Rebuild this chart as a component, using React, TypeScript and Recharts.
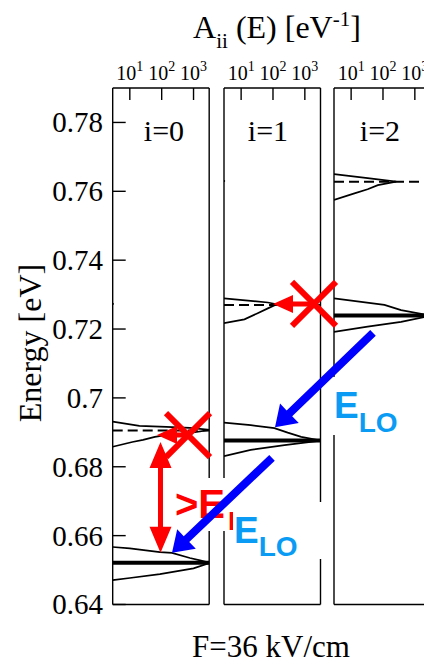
import { ScatterChart, Scatter, XAxis, YAxis, ReferenceLine, Customized } from 'recharts';

// ---- tick values ----
const A_TICKS = [10, 100, 1000];
const E_TICKS = [0.64, 0.66, 0.68, 0.7, 0.72, 0.74, 0.76, 0.78];
const E_MINOR = [0.65, 0.67, 0.69, 0.71, 0.73, 0.75, 0.77];
const E_FINE = [0.65, 0.66, 0.67, 0.68, 0.69, 0.7, 0.71, 0.72, 0.73, 0.74, 0.75, 0.76, 0.77, 0.78];
const PANEL_LABELS = ['i=0', 'i=1', 'i=2'];

// ---- spectral functions A_ii(E) ----
// i=0
const i0Ground = [
  { a: 2.9, e: 0.6567 }, { a: 10, e: 0.6563 }, { a: 88, e: 0.6552 }, { a: 210, e: 0.655 },
  { a: 770, e: 0.6535 }, { a: 1600, e: 0.6528 }, { a: 3300, e: 0.6521 },
  { a: 1000, e: 0.6505 }, { a: 88, e: 0.6488 }, { a: 10, e: 0.6477 }, { a: 2.9, e: 0.6471 },
];
const i0Upper = [
  { a: 2.9, e: 0.6931 }, { a: 20, e: 0.6919 }, { a: 140, e: 0.6916 }, { a: 770, e: 0.6913 },
  { a: 3300, e: 0.6907 },
  { a: 770, e: 0.6898 }, { a: 135, e: 0.6892 }, { a: 61, e: 0.6887 }, { a: 26, e: 0.6878 },
  { a: 12, e: 0.6872 }, { a: 2.9, e: 0.6858 },
];
const i0Speck = [{ a: 2.0, e: 0.7276 }, { a: 3.1, e: 0.7273 }, { a: 2.0, e: 0.727 }];
// i=1
const i1Upper = [
  { a: 2.9, e: 0.7289 }, { a: 20, e: 0.7282 }, { a: 69, e: 0.7277 }, { a: 130, e: 0.7272 },
  { a: 69, e: 0.726 }, { a: 33, e: 0.7246 }, { a: 12.7, e: 0.7228 }, { a: 2.9, e: 0.7217 },
];
const i1Ground = [
  { a: 2.9, e: 0.6928 }, { a: 20, e: 0.6921 }, { a: 111, e: 0.6912 }, { a: 290, e: 0.6899 },
  { a: 770, e: 0.6887 }, { a: 3300, e: 0.6876 },
  { a: 230, e: 0.6863 }, { a: 20, e: 0.6849 }, { a: 2.9, e: 0.6831 },
];
const i1Speck = [{ a: 2.0, e: 0.7633 }, { a: 3.1, e: 0.763 }, { a: 2.0, e: 0.7627 }];
// i=2
const i2Upper = [
  { a: 2.9, e: 0.765 }, { a: 33, e: 0.7638 }, { a: 260, e: 0.7628 },
  { a: 69, e: 0.7618 }, { a: 33, e: 0.7606 }, { a: 12.7, e: 0.7594 }, { a: 2.9, e: 0.7575 },
];
const i2Ground = [
  { a: 2.9, e: 0.7289 }, { a: 111, e: 0.727 }, { a: 370, e: 0.7255 }, { a: 3300, e: 0.7239 },
  { a: 370, e: 0.7221 }, { a: 33, e: 0.7207 }, { a: 2.9, e: 0.7192 },
];

// level energies: thick = ground peak, dashed = unperturbed level
const THICK_E = [0.6521, 0.6876, 0.7239];
const DASHED_E = [0.6905, 0.727, 0.7628];
const CURVES = [[i0Ground, i0Upper, i0Speck], [i1Upper, i1Ground, i1Speck], [i2Upper, i2Ground]];

// ---- annotations (x in figure units, e = energy) ----
const RED_CROSSES = [{ x: 188, e: 0.6892 }, { x: 314, e: 0.7273 }];
const RED_SHIFTS = [
  [{ x: 188, y: 0.6892 }, { x: 157, y: 0.6892 }],
  [{ x: 314, y: 0.7273 }, { x: 273, y: 0.7273 }],
];
const RED_GAP = [{ x: 160.5, y: 0.6872 }, { x: 160.5, y: 0.655 }];
const BLUE_ARROWS = [
  [{ x: 373, y: 0.7189 }, { x: 275, y: 0.6915 }],
  [{ x: 272, y: 0.6826 }, { x: 172, y: 0.655 }],
];

// ---- layout ----
const W = 424;
const H = 665;
const PLOT_TOP = 88;
const PLOT_BOTTOM = 604.5;
const PANEL_X = [112.7, 224, 334.3];
const PANEL_W = 96.5;
const A_DOMAIN = [2.9, 3100];
const E_DOMAIN = [0.64, 0.79];
const SERIF = '"Liberation Serif", "Times New Roman", serif';
const SANS = '"Liberation Sans", Arial, sans-serif';
const RED = '#ff0000';
const BLUE = '#0000ff';
const SKY = '#0a9cf5';
const AXIS = { stroke: '#000', strokeWidth: 1.4 };

const PowTick = ({ x, y, payload }: any) => (
  <text x={x} y={y} textAnchor="middle" fontFamily={SERIF} fontSize={20} fill="#000">
    10
    <tspan dy={-9} fontSize={14}>{Math.round(Math.log10(payload.value))}</tspan>
  </text>
);

const ETick = ({ x, y, payload }: any) => (
  <text x={x} y={y} dy={10} textAnchor="end" fontFamily={SERIF} fontSize={29} fill="#000">
    {String(Number(payload.value.toFixed(2)))}
  </text>
);

function arrowPoints(x1: number, y1: number, x2: number, y2: number, shaft: number, hl: number, hw: number, both: boolean) {
  const len = Math.hypot(x2 - x1, y2 - y1);
  const ux = (x2 - x1) / len;
  const uy = (y2 - y1) / len;
  const nx = -uy;
  const ny = ux;
  const s = shaft / 2;
  const h = hw / 2;
  const bx = x2 - ux * hl;
  const by = y2 - uy * hl;
  const p = (px: number, py: number) => `${px},${py}`;
  if (!both) {
    return [
      p(x1 + nx * s, y1 + ny * s), p(bx + nx * s, by + ny * s), p(bx + nx * h, by + ny * h), p(x2, y2),
      p(bx - nx * h, by - ny * h), p(bx - nx * s, by - ny * s), p(x1 - nx * s, y1 - ny * s),
    ].join(' ');
  }
  const cx = x1 + ux * hl;
  const cy = y1 + uy * hl;
  return [
    p(x1, y1), p(cx + nx * h, cy + ny * h), p(cx + nx * s, cy + ny * s), p(bx + nx * s, by + ny * s),
    p(bx + nx * h, by + ny * h), p(x2, y2), p(bx - nx * h, by - ny * h), p(bx - nx * s, by - ny * s),
    p(cx - nx * s, cy - ny * s), p(cx - nx * h, cy - ny * h),
  ].join(' ');
}

const arrowShape = (color: string, shaft: number, hl: number, hw: number, both = false) => (props: any) => (
  <polygon points={arrowPoints(props.x1, props.y1, props.x2, props.y2, shaft, hl, hw, both)} fill={color} />
);

const Cross = ({ cx, cy }: any) => (
  <g stroke={RED} strokeWidth={6}>
    <line x1={cx - 22} y1={cy - 22} x2={cx + 22} y2={cy + 22} />
    <line x1={cx - 22} y1={cy + 22} x2={cx + 22} y2={cy - 22} />
  </g>
);

const NoDot = () => <g />;

// axes are 1px thick boxes sitting just outside the plot, so margins are reduced by that
function Panel({ idx }: { idx: number }) {
  const ml = idx === 0 ? PANEL_X[0] : 10;
  const mr = 10;
  const leftAxes = idx === 0 ? 2 : 1;
  const common = { type: 'number' as const, allowDataOverflow: true };
  return (
    <div style={{ position: 'absolute', left: PANEL_X[idx] - ml, top: 0 }}>
      <ScatterChart
        width={ml + PANEL_W + mr}
        height={H}
        margin={{ top: PLOT_TOP - 1, bottom: H - PLOT_BOTTOM - 1, left: ml - leftAxes, right: mr - 1 }}
      >
        <XAxis {...common} xAxisId="top" orientation="top" dataKey="a" scale="log" domain={A_DOMAIN}
          ticks={A_TICKS} interval={0} height={1} tickSize={-12} tickMargin={20}
          tick={<PowTick />} axisLine={AXIS} tickLine={AXIS} />
        <XAxis {...common} xAxisId="bottom" orientation="bottom" dataKey="a" scale="log" domain={A_DOMAIN}
          ticks={A_TICKS} interval={0} height={1} tickSize={-15} tick={false} axisLine={AXIS} tickLine={AXIS} />
        <YAxis {...common} yAxisId="e" dataKey="e" domain={E_DOMAIN} width={1}
          ticks={idx === 0 ? E_TICKS : E_FINE} interval={0} tickSize={idx === 0 ? -13 : -2}
          tickMargin={22.7} tick={idx === 0 ? <ETick /> : false} axisLine={AXIS} tickLine={AXIS} />
        {idx === 0 && (
          <YAxis {...common} yAxisId="minor" domain={E_DOMAIN} width={1} ticks={E_MINOR} interval={0}
            tickSize={-7} tick={false} axisLine={false} tickLine={AXIS} />
        )}
        <YAxis {...common} yAxisId="right" orientation="right" domain={E_DOMAIN} width={1}
          ticks={[0.7]} tick={false} tickLine={false} axisLine={AXIS} />
        <ReferenceLine xAxisId="top" yAxisId="e" y={THICK_E[idx]} stroke="#000" strokeWidth={4} />
        <ReferenceLine xAxisId="top" yAxisId="e" y={DASHED_E[idx]} stroke="#000" strokeWidth={2}
          strokeDasharray="10 5" />
        {CURVES[idx].map((c, k) => (
          <Scatter key={k} xAxisId="top" yAxisId="e" data={c} shape={NoDot} lineType="joint"
            line={{ stroke: '#000', strokeWidth: 1.7 }} isAnimationActive={false} />
        ))}
      </ScatterChart>
    </div>
  );
}

const TextLayer = () => (
  <g>
    {/* title */}
    <text x={277} y={38} textAnchor="middle" fontFamily={SERIF} fontSize={32} fill="#000">
      A<tspan dy={10} fontSize={21}>ii</tspan>
      <tspan dy={-10}> (E) [eV</tspan>
      <tspan dy={-12} fontSize={21}>-1</tspan>
      <tspan dy={12}>]</tspan>
    </text>
    <text x={271} y={657} textAnchor="middle" fontFamily={SERIF} fontSize={31} fill="#000">F=36 kV/cm</text>
    <text x={41} y={343} textAnchor="middle" fontFamily={SERIF} fontSize={32} fill="#000"
      transform="rotate(-90 41 343)">Energy [eV]</text>
    {PANEL_LABELS.map((t, k) => (
      <text key={t} x={[164, 268, 380][k]} y={141} textAnchor="middle" fontFamily={SERIF} fontSize={30} fill="#000">{t}</text>
    ))}
    {/* red label, mostly hidden under the blue one as in the figure */}
    <rect x={171} y={478} width={62} height={53} fill="#fff" />
    <text x={175} y={518} fontFamily={SANS} fontWeight="bold" fontSize={40} fill={RED}>
      &gt;E<tspan dx={3} dy={12} fontSize={26}>LO</tspan>
    </text>
    {/* blue labels */}
    <rect x={233} y={502} width={95} height={57} fill="#fff" />
    <text x={234} y={543} fontFamily={SANS} fontWeight="bold" fontSize={37} fill={SKY}>
      E<tspan dy={13} fontSize={28}>LO</tspan>
    </text>
    <rect x={330} y={377} width={78} height={58} fill="#fff" />
    <text x={334} y={418} fontFamily={SANS} fontWeight="bold" fontSize={37} fill={SKY}>
      E<tspan dy={14} fontSize={28}>LO</tspan>
    </text>
  </g>
);

function Overlay({ children }: { children: any }) {
  return (
    <div style={{ position: 'absolute', left: 0, top: 0 }}>
      <ScatterChart width={W} height={H} margin={{ top: PLOT_TOP, bottom: H - PLOT_BOTTOM, left: 0, right: 0 }}>
        <XAxis type="number" dataKey="x" domain={[0, W]} hide height={0} />
        <YAxis type="number" dataKey="e" domain={E_DOMAIN} hide width={0} />
        {children}
      </ScatterChart>
    </div>
  );
}

export default function App() {
  return (
    <div style={{ position: 'absolute', left: 0, top: 0, width: W, height: H, overflow: 'hidden', background: '#fff' }}>
      <Panel idx={0} />
      <Panel idx={1} />
      <Panel idx={2} />
      <Overlay>
        <Customized component={TextLayer} />
      </Overlay>
      <Overlay>
        {BLUE_ARROWS.map((seg, k) => (
          <ReferenceLine key={`b${k}`} segment={seg} ifOverflow="visible" shape={arrowShape(BLUE, 8, 20, 27)} />
        ))}
        {RED_SHIFTS.map((seg, k) => (
          <ReferenceLine key={`r${k}`} segment={seg} ifOverflow="visible" shape={arrowShape(RED, 5, 20, 18)} />
        ))}
        <ReferenceLine segment={RED_GAP} ifOverflow="visible" shape={arrowShape(RED, 5, 26, 22, true)} />
        <Scatter data={RED_CROSSES} shape={Cross} isAnimationActive={false} />
      </Overlay>
    </div>
  );
}
